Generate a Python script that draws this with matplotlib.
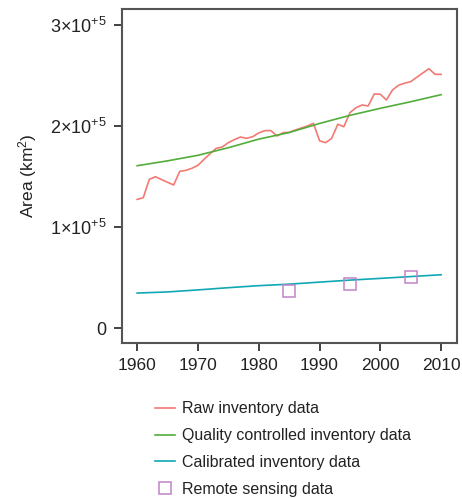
import numpy as np
import matplotlib
matplotlib.use("Agg")
import matplotlib.pyplot as plt

plt.rcParams['font.family'] = ['Liberation Sans', 'DejaVu Sans']
plt.rcParams['mathtext.fontset'] = 'custom'
plt.rcParams['mathtext.rm'] = 'Liberation Sans'
plt.rcParams['mathtext.it'] = 'Liberation Sans:italic'

# raw inventory series (annual)
raw_years = list(range(1960, 2011))
raw_area = [127400, 129000, 147200, 149800, 147000, 144300, 141600, 155100, 156100, 158100,
            161100, 167000, 172600, 177900, 179200, 183500, 186500, 189100, 187800, 189400,
            193100, 195400, 195400, 190100, 193400, 193700, 196000, 198000, 200000, 202700,
            185400, 183500, 187800, 201700, 199300, 213200, 218100, 220800, 219800, 231700,
            231400, 225700, 235600, 240300, 242300, 243900, 248200, 252500, 256700, 251100,
            251100]

# quality controlled and calibrated series
qc_years = [1960, 1965, 1970, 1975, 1980, 1985, 1990, 1995, 2000, 2005, 2010]
qc_area = [160700, 165500, 171000, 178500, 187000, 193500, 202500, 210500, 217500, 224000, 231000]
cal_years = [1960, 1965, 1970, 1975, 1980, 1985, 1990, 1995, 2000, 2005, 2010]
cal_area = [34700, 35800, 37800, 40000, 42000, 43500, 45500, 47500, 49200, 51000, 52800]

# remote sensing points
rs_years = [1985, 1995, 2005]
rs_area = [36900, 43200, 50800]

y_ticks = [0, 100000, 200000, 300000]
y_tick_labels = ['0', '1×10$^{+5}$', '2×10$^{+5}$', '3×10$^{+5}$']
x_ticks = [1960, 1970, 1980, 1990, 2000, 2010]

fig = plt.figure(figsize=(4.62, 4.98), dpi=100)
ax = fig.add_axes([0.264, 0.311, 0.725, 0.671])

ax.plot(raw_years, raw_area, color='#f27a73', lw=1.2, label='Raw inventory data')
ax.plot(qc_years, qc_area, color='#52ad3a', lw=1.2, label='Quality controlled inventory data')
ax.plot(cal_years, cal_area, color='#10a8b4', lw=1.2, label='Calibrated inventory data')
ax.plot(rs_years, rs_area, ls='none', marker='s', ms=9, mfc='none', mec='#c283c8',
        mew=1.1, label='Remote sensing data')

ax.set_xlim(1957.5, 2012.6)
ax.set_ylim(-14850, 315800)
ax.set_xticks(x_ticks)
ax.set_yticks(y_ticks)
ax.set_yticklabels(y_tick_labels)
ax.tick_params(direction='out', length=6, width=1.3, color='#333333',
               labelsize=12.5, labelcolor='#222222', pad=5)
ax.tick_params(axis='y', labelsize=13)
for s in ax.spines.values():
    s.set_color('#555555')
    s.set_linewidth(1.5)
ax.set_ylabel('Area (km$^2$)', fontsize=12.5, color='#222222', labelpad=8)

fig.legend(loc='upper left', bbox_to_anchor=(0.335, 0.194), frameon=False,
           fontsize=11.5, handlelength=1.25, handletextpad=0.45, labelspacing=0.74,
           labelcolor='#222222', borderaxespad=0, borderpad=0)

fig.savefig('out.png', dpi=100)
